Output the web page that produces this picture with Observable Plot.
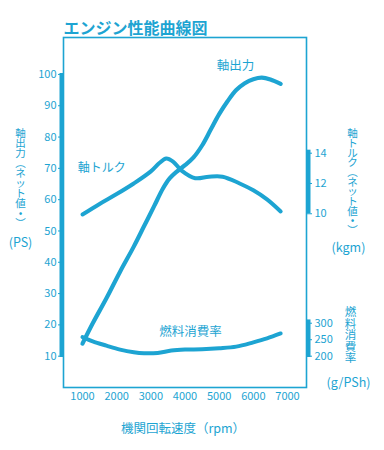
<!DOCTYPE html>
<html>
<head>
<meta charset="utf-8">
<script src="https://cdn.jsdelivr.net/npm/d3@7"></script>
<script src="https://cdn.jsdelivr.net/npm/@observablehq/plot@0.6"></script>
<style>
  html, body { margin: 0; padding: 0; background: #fff; }
</style>
</head>
<body>
<div id="chart"></div>
<script>
// ---- data ----
const rpmTicks = [1000, 2000, 3000, 4000, 5000, 6000, 7000];
const psTicks = [10, 20, 30, 40, 50, 60, 70, 80, 90, 100];
const torqueTicks = [10, 12, 14];
const fuelTicks = [200, 250, 300];

const powerRpm = [1000, 1300, 1700, 2100, 2500, 2800, 3100, 3350, 3550, 3750, 4000, 4250, 4500, 4750, 5000, 5250, 5500, 5750, 6000, 6250, 6500, 6800];
const powerPS  = [14, 20.5, 28.5, 37, 45, 51.5, 58, 63.5, 66.8, 68.9, 71, 73.5, 77.3, 82.3, 87.3, 91.5, 95, 97.2, 98.5, 99, 98.4, 97];

const torqueRpm = [1000, 1500, 2000, 2500, 3000, 3250, 3450, 3650, 3900, 4300, 4700, 5100, 5600, 6000, 6400, 6800];
const torqueKgm = [9.95, 10.65, 11.3, 12.0, 12.8, 13.35, 13.65, 13.45, 12.85, 12.35, 12.45, 12.45, 12.0, 11.55, 10.95, 10.15];

const fuelRpm  = [1000, 1300, 1700, 2100, 2500, 2800, 3200, 3600, 4000, 4500, 5000, 5500, 6000, 6400, 6800];
const fuelGPSh = [258, 245, 232, 220, 212, 209, 210, 217, 220, 221, 224, 229, 242, 254, 269];

// ---- secondary axes mapped onto the PS scale ----
const torqueToPS = t => 55.5 + (t - 10) * 4.835;
const psToTorque = p => 10 + (p - 55.5) / 4.835;
const fuelToPS = f => 10 + (f - 200) * 0.1053;
const psToFuel = p => 200 + (p - 10) / 0.1053;

const power = powerRpm.map((r, i) => ({rpm: r, v: powerPS[i]}));
const torque = torqueRpm.map((r, i) => ({rpm: r, v: torqueToPS(torqueKgm[i])}));
const fuel = fuelRpm.map((r, i) => ({rpm: r, v: fuelToPS(fuelGPSh[i])}));

const C = "#1da4d2";
const JP = "'Noto Sans CJK JP', 'Noto Sans', sans-serif";
const xDomain = [444, 7556];
const yDomain = [0, 111.8];

const chart = Plot.plot({
  width: 384,
  height: 450,
  marginTop: 37,
  marginLeft: 63,
  marginRight: 78,
  marginBottom: 63,
  style: {background: "#fff", color: C, fontFamily: JP, fontSize: "11px"},
  x: {domain: xDomain, label: null},
  y: {domain: yDomain, label: null},
  marks: [
    Plot.frame({stroke: C, strokeWidth: 1.6}),
    // x axis
    Plot.axisX({ticks: rpmTicks, tickSize: 0, tickPadding: 5, tickFormat: d => String(d), fontSize: 11, label: null}),
    // left PS axis
    Plot.ruleX([xDomain[0]], {y1: 9.6, y2: 100.3, stroke: C, strokeWidth: 4, dx: -2}),
    Plot.axisY({anchor: "left", ticks: psTicks, tickSize: 5, tickPadding: 2, tickFormat: d => String(d), fontSize: 11, label: null}),
    // right torque axis
    Plot.ruleX([xDomain[1]], {y1: torqueToPS(10), y2: torqueToPS(14.2), stroke: C, strokeWidth: 4, dx: 2}),
    Plot.axisY({anchor: "right", ticks: torqueTicks.map(torqueToPS), tickSize: 5, tickPadding: 3, tickFormat: p => String(Math.round(psToTorque(p))), fontSize: 11, label: null}),
    // right fuel axis
    Plot.ruleX([xDomain[1]], {y1: fuelToPS(196), y2: fuelToPS(310), stroke: C, strokeWidth: 4, dx: 2}),
    Plot.axisY({anchor: "right", ticks: fuelTicks.map(fuelToPS), tickSize: 5, tickPadding: 3, tickFormat: p => String(Math.round(psToFuel(p))), fontSize: 11, label: null}),
    // curves
    Plot.line(power, {x: "rpm", y: "v", stroke: C, strokeWidth: 4.2, curve: "catmull-rom"}),
    Plot.line(torque, {x: "rpm", y: "v", stroke: C, strokeWidth: 4, curve: "catmull-rom"}),
    Plot.line(fuel, {x: "rpm", y: "v", stroke: C, strokeWidth: 4, curve: "catmull-rom"}),
    // curve labels
    Plot.text(["軸出力"], {x: 5478, y: 102.6, fill: C, fontSize: 12.5, fontFamily: JP}),
    Plot.text(["軸トルク"], {x: 1560, y: 70, fill: C, fontSize: 12, fontFamily: JP}),
    Plot.text(["燃料消費率"], {x: 4160, y: 17.6, fill: C, fontSize: 12.5, fontFamily: JP}),
    // title
    Plot.text(["エンジン性能曲線図"], {frameAnchor: "top-left", dy: -15, textAnchor: "start", fill: C, fontSize: 16, fontWeight: "bold", fontFamily: JP}),
    // x axis title
    Plot.text(["機関回転速度（rpm）"], {frameAnchor: "bottom", dx: -2, dy: 45, fill: C, fontSize: 12.5, fontFamily: JP}),
    // left axis title
    Plot.text(["軸\n出\n力\n︵\nネ\nッ\nト\n値\n•\n︶"], {frameAnchor: "left", textAnchor: "middle", dx: -43, dy: -34, fill: C, fontSize: 10.5, lineHeight: 0.95, fontFamily: JP}),
    Plot.text(["(PS)"], {frameAnchor: "left", textAnchor: "middle", dx: -43, dy: 30, fill: C, fontSize: 12.5, fontFamily: JP}),
    // right torque title
    Plot.text(["軸\nト\nル\nク\n︵\nネ\nッ\nト\n値\n•\n︶"], {frameAnchor: "right", textAnchor: "middle", dx: 46, dy: -30, fill: C, fontSize: 10.5, lineHeight: 0.92, fontFamily: JP}),
    Plot.text(["(kgm)"], {frameAnchor: "right", textAnchor: "middle", dx: 42, dy: 35, fill: C, fontSize: 12.5, fontFamily: JP}),
    // right fuel title
    Plot.text(["燃\n料\n消\n費\n率"], {frameAnchor: "right", textAnchor: "middle", dx: 44, dy: 123, fill: C, fontSize: 11.5, lineHeight: 1.0, fontFamily: JP}),
    Plot.text(["(g/PSh)"], {frameAnchor: "right", textAnchor: "middle", dx: 42, dy: 170, fill: C, fontSize: 12.5, fontFamily: JP})
  ]
});
document.getElementById("chart").appendChild(chart);
</script>
</body>
</html>
